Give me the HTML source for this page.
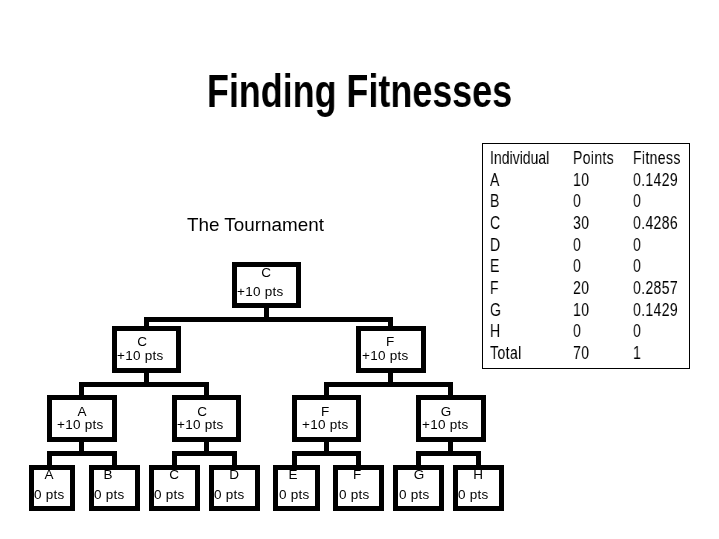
<!DOCTYPE html>
<html><head><meta charset="utf-8"><style>
html,body{margin:0;padding:0;background:#fff;}
body{width:719px;height:539px;position:relative;overflow:hidden;font-family:"Liberation Sans", sans-serif;color:#000;}
.r{position:absolute;background:#000;}
.b{position:absolute;border:5px solid #000;box-sizing:border-box;background:#fff;}
.t{position:absolute;white-space:nowrap;will-change:transform;}
</style></head><body>
<div class="t" style="left:206.5px;top:67.69px;font-size:46.2px;line-height:46.2px;transform:scaleX(0.777);transform-origin:0 0;font-weight:bold;">Finding Fitnesses</div>
<div class="t" style="left:187.0px;top:215.84px;font-size:18.85px;line-height:18.85px;">The Tournament</div>
<div class="r" style="left:482px;top:143px;width:208px;height:1px"></div>
<div class="r" style="left:482px;top:368px;width:208px;height:1px"></div>
<div class="r" style="left:482px;top:143px;width:1px;height:226px"></div>
<div class="r" style="left:689px;top:143px;width:1px;height:226px"></div>
<div class="t" style="left:490.3px;top:148.90px;font-size:18.9px;line-height:18.9px;transform:scaleX(0.744);transform-origin:0 0;">Individual</div>
<div class="t" style="left:573.3px;top:148.90px;font-size:18.9px;line-height:18.9px;transform:scaleX(0.744);transform-origin:0 0;letter-spacing:0.45px;">Points</div>
<div class="t" style="left:633.0px;top:148.90px;font-size:18.9px;line-height:18.9px;transform:scaleX(0.744);transform-origin:0 0;letter-spacing:0.45px;">Fitness</div>
<div class="t" style="left:490.3px;top:170.58px;font-size:18.9px;line-height:18.9px;transform:scaleX(0.744);transform-origin:0 0;letter-spacing:0.5px;">A</div>
<div class="t" style="left:573.3px;top:170.58px;font-size:18.9px;line-height:18.9px;transform:scaleX(0.744);transform-origin:0 0;letter-spacing:0.45px;">10</div>
<div class="t" style="left:633.0px;top:170.58px;font-size:18.9px;line-height:18.9px;transform:scaleX(0.744);transform-origin:0 0;letter-spacing:0.45px;">0.1429</div>
<div class="t" style="left:490.3px;top:192.26px;font-size:18.9px;line-height:18.9px;transform:scaleX(0.744);transform-origin:0 0;letter-spacing:0.5px;">B</div>
<div class="t" style="left:573.3px;top:192.26px;font-size:18.9px;line-height:18.9px;transform:scaleX(0.744);transform-origin:0 0;letter-spacing:0.45px;">0</div>
<div class="t" style="left:633.0px;top:192.26px;font-size:18.9px;line-height:18.9px;transform:scaleX(0.744);transform-origin:0 0;letter-spacing:0.45px;">0</div>
<div class="t" style="left:490.3px;top:213.94px;font-size:18.9px;line-height:18.9px;transform:scaleX(0.744);transform-origin:0 0;letter-spacing:0.5px;">C</div>
<div class="t" style="left:573.3px;top:213.94px;font-size:18.9px;line-height:18.9px;transform:scaleX(0.744);transform-origin:0 0;letter-spacing:0.45px;">30</div>
<div class="t" style="left:633.0px;top:213.94px;font-size:18.9px;line-height:18.9px;transform:scaleX(0.744);transform-origin:0 0;letter-spacing:0.45px;">0.4286</div>
<div class="t" style="left:490.3px;top:235.62px;font-size:18.9px;line-height:18.9px;transform:scaleX(0.744);transform-origin:0 0;letter-spacing:0.5px;">D</div>
<div class="t" style="left:573.3px;top:235.62px;font-size:18.9px;line-height:18.9px;transform:scaleX(0.744);transform-origin:0 0;letter-spacing:0.45px;">0</div>
<div class="t" style="left:633.0px;top:235.62px;font-size:18.9px;line-height:18.9px;transform:scaleX(0.744);transform-origin:0 0;letter-spacing:0.45px;">0</div>
<div class="t" style="left:490.3px;top:257.30px;font-size:18.9px;line-height:18.9px;transform:scaleX(0.744);transform-origin:0 0;letter-spacing:0.5px;">E</div>
<div class="t" style="left:573.3px;top:257.30px;font-size:18.9px;line-height:18.9px;transform:scaleX(0.744);transform-origin:0 0;letter-spacing:0.45px;">0</div>
<div class="t" style="left:633.0px;top:257.30px;font-size:18.9px;line-height:18.9px;transform:scaleX(0.744);transform-origin:0 0;letter-spacing:0.45px;">0</div>
<div class="t" style="left:490.3px;top:278.98px;font-size:18.9px;line-height:18.9px;transform:scaleX(0.744);transform-origin:0 0;letter-spacing:0.5px;">F</div>
<div class="t" style="left:573.3px;top:278.98px;font-size:18.9px;line-height:18.9px;transform:scaleX(0.744);transform-origin:0 0;letter-spacing:0.45px;">20</div>
<div class="t" style="left:633.0px;top:278.98px;font-size:18.9px;line-height:18.9px;transform:scaleX(0.744);transform-origin:0 0;letter-spacing:0.45px;">0.2857</div>
<div class="t" style="left:490.3px;top:300.66px;font-size:18.9px;line-height:18.9px;transform:scaleX(0.744);transform-origin:0 0;letter-spacing:0.5px;">G</div>
<div class="t" style="left:573.3px;top:300.66px;font-size:18.9px;line-height:18.9px;transform:scaleX(0.744);transform-origin:0 0;letter-spacing:0.45px;">10</div>
<div class="t" style="left:633.0px;top:300.66px;font-size:18.9px;line-height:18.9px;transform:scaleX(0.744);transform-origin:0 0;letter-spacing:0.45px;">0.1429</div>
<div class="t" style="left:490.3px;top:322.34px;font-size:18.9px;line-height:18.9px;transform:scaleX(0.744);transform-origin:0 0;letter-spacing:0.5px;">H</div>
<div class="t" style="left:573.3px;top:322.34px;font-size:18.9px;line-height:18.9px;transform:scaleX(0.744);transform-origin:0 0;letter-spacing:0.45px;">0</div>
<div class="t" style="left:633.0px;top:322.34px;font-size:18.9px;line-height:18.9px;transform:scaleX(0.744);transform-origin:0 0;letter-spacing:0.45px;">0</div>
<div class="t" style="left:490.3px;top:344.02px;font-size:18.9px;line-height:18.9px;transform:scaleX(0.744);transform-origin:0 0;letter-spacing:0.5px;">Total</div>
<div class="t" style="left:573.3px;top:344.02px;font-size:18.9px;line-height:18.9px;transform:scaleX(0.744);transform-origin:0 0;letter-spacing:0.45px;">70</div>
<div class="t" style="left:633.0px;top:344.02px;font-size:18.9px;line-height:18.9px;transform:scaleX(0.744);transform-origin:0 0;letter-spacing:0.45px;">1</div>
<div class="b" style="left:232px;top:262px;width:69px;height:46px;border-width:5px"></div>
<div class="t" style="left:216.0px;width:100px;text-align:center;top:265.97px;font-size:13.5px;line-height:13.5px;">C</div>
<div class="t" style="left:236.9px;top:284.77px;font-size:13.5px;line-height:13.5px;letter-spacing:0.25px;">+10 pts</div>
<div class="b" style="left:112px;top:326px;width:69px;height:47px;border-width:5px"></div>
<div class="t" style="left:92.1px;width:100px;text-align:center;top:334.97px;font-size:13.5px;line-height:13.5px;">C</div>
<div class="t" style="left:116.9px;top:348.77px;font-size:13.5px;line-height:13.5px;letter-spacing:0.25px;">+10 pts</div>
<div class="b" style="left:356px;top:326px;width:70px;height:47px;border-width:5px"></div>
<div class="t" style="left:339.8px;width:100px;text-align:center;top:334.97px;font-size:13.5px;line-height:13.5px;">F</div>
<div class="t" style="left:361.9px;top:348.77px;font-size:13.5px;line-height:13.5px;letter-spacing:0.25px;">+10 pts</div>
<div class="b" style="left:47px;top:395px;width:70px;height:47px;border-width:5px"></div>
<div class="t" style="left:31.5px;width:100px;text-align:center;top:404.57px;font-size:13.5px;line-height:13.5px;">A</div>
<div class="t" style="left:56.9px;top:417.77px;font-size:13.5px;line-height:13.5px;letter-spacing:0.25px;">+10 pts</div>
<div class="b" style="left:172px;top:395px;width:69px;height:47px;border-width:5px"></div>
<div class="t" style="left:152.0px;width:100px;text-align:center;top:404.57px;font-size:13.5px;line-height:13.5px;">C</div>
<div class="t" style="left:176.9px;top:417.77px;font-size:13.5px;line-height:13.5px;letter-spacing:0.25px;">+10 pts</div>
<div class="b" style="left:292px;top:395px;width:69px;height:47px;border-width:5px"></div>
<div class="t" style="left:274.8px;width:100px;text-align:center;top:404.57px;font-size:13.5px;line-height:13.5px;">F</div>
<div class="t" style="left:301.9px;top:417.77px;font-size:13.5px;line-height:13.5px;letter-spacing:0.25px;">+10 pts</div>
<div class="b" style="left:416px;top:395px;width:70px;height:47px;border-width:5px"></div>
<div class="t" style="left:396.1px;width:100px;text-align:center;top:404.57px;font-size:13.5px;line-height:13.5px;">G</div>
<div class="t" style="left:421.9px;top:417.77px;font-size:13.5px;line-height:13.5px;letter-spacing:0.25px;">+10 pts</div>
<div class="b" style="left:29px;top:465px;width:46px;height:46px;border-width:5px"></div>
<div class="t" style="left:-0.9000000000000057px;width:100px;text-align:center;top:468.47px;font-size:13.5px;line-height:13.5px;">A</div>
<div class="t" style="left:34.3px;top:488.07px;font-size:13.5px;line-height:13.5px;letter-spacing:0.25px;">0 pts</div>
<div class="b" style="left:89px;top:465px;width:51px;height:46px;border-width:5px"></div>
<div class="t" style="left:58.0px;width:100px;text-align:center;top:468.47px;font-size:13.5px;line-height:13.5px;">B</div>
<div class="t" style="left:94.3px;top:488.07px;font-size:13.5px;line-height:13.5px;letter-spacing:0.25px;">0 pts</div>
<div class="b" style="left:149px;top:465px;width:51px;height:46px;border-width:5px"></div>
<div class="t" style="left:124.10000000000002px;width:100px;text-align:center;top:468.47px;font-size:13.5px;line-height:13.5px;">C</div>
<div class="t" style="left:154.3px;top:488.07px;font-size:13.5px;line-height:13.5px;letter-spacing:0.25px;">0 pts</div>
<div class="b" style="left:209px;top:465px;width:51px;height:46px;border-width:5px"></div>
<div class="t" style="left:184.10000000000002px;width:100px;text-align:center;top:468.47px;font-size:13.5px;line-height:13.5px;">D</div>
<div class="t" style="left:214.3px;top:488.07px;font-size:13.5px;line-height:13.5px;letter-spacing:0.25px;">0 pts</div>
<div class="b" style="left:273px;top:465px;width:47px;height:46px;border-width:5px"></div>
<div class="t" style="left:243.0px;width:100px;text-align:center;top:468.47px;font-size:13.5px;line-height:13.5px;">E</div>
<div class="t" style="left:279.4px;top:488.07px;font-size:13.5px;line-height:13.5px;letter-spacing:0.25px;">0 pts</div>
<div class="b" style="left:333px;top:465px;width:51px;height:46px;border-width:5px"></div>
<div class="t" style="left:307.0px;width:100px;text-align:center;top:468.47px;font-size:13.5px;line-height:13.5px;">F</div>
<div class="t" style="left:339.4px;top:488.07px;font-size:13.5px;line-height:13.5px;letter-spacing:0.25px;">0 pts</div>
<div class="b" style="left:393px;top:465px;width:51px;height:46px;border-width:5px"></div>
<div class="t" style="left:369.0px;width:100px;text-align:center;top:468.47px;font-size:13.5px;line-height:13.5px;">G</div>
<div class="t" style="left:399.4px;top:488.07px;font-size:13.5px;line-height:13.5px;letter-spacing:0.25px;">0 pts</div>
<div class="b" style="left:453px;top:465px;width:51px;height:46px;border-width:5px"></div>
<div class="t" style="left:428.0px;width:100px;text-align:center;top:468.47px;font-size:13.5px;line-height:13.5px;">H</div>
<div class="t" style="left:458.3px;top:488.07px;font-size:13.5px;line-height:13.5px;letter-spacing:0.25px;">0 pts</div>
<div class="r" style="left:264px;top:308px;width:5px;height:14px"></div>
<div class="r" style="left:144px;top:317px;width:249px;height:5px"></div>
<div class="r" style="left:144px;top:317px;width:5px;height:9px"></div>
<div class="r" style="left:388px;top:317px;width:5px;height:9px"></div>
<div class="r" style="left:144px;top:373px;width:5px;height:14px"></div>
<div class="r" style="left:388px;top:373px;width:5px;height:14px"></div>
<div class="r" style="left:79px;top:382px;width:130px;height:5px"></div>
<div class="r" style="left:324px;top:382px;width:129px;height:5px"></div>
<div class="r" style="left:79px;top:382px;width:5px;height:13px"></div>
<div class="r" style="left:204px;top:382px;width:5px;height:13px"></div>
<div class="r" style="left:324px;top:382px;width:5px;height:13px"></div>
<div class="r" style="left:448px;top:382px;width:5px;height:13px"></div>
<div class="r" style="left:79px;top:442px;width:5px;height:14px"></div>
<div class="r" style="left:204px;top:442px;width:5px;height:14px"></div>
<div class="r" style="left:324px;top:442px;width:5px;height:14px"></div>
<div class="r" style="left:448px;top:442px;width:5px;height:14px"></div>
<div class="r" style="left:47px;top:451px;width:70px;height:5px"></div>
<div class="r" style="left:172px;top:451px;width:65px;height:5px"></div>
<div class="r" style="left:292px;top:451px;width:69px;height:5px"></div>
<div class="r" style="left:416px;top:451px;width:65px;height:5px"></div>
<div class="r" style="left:47px;top:451px;width:5px;height:14px"></div>
<div class="r" style="left:112px;top:451px;width:5px;height:14px"></div>
<div class="r" style="left:172px;top:451px;width:5px;height:14px"></div>
<div class="r" style="left:232px;top:451px;width:5px;height:14px"></div>
<div class="r" style="left:292px;top:451px;width:5px;height:14px"></div>
<div class="r" style="left:356px;top:451px;width:5px;height:14px"></div>
<div class="r" style="left:416px;top:451px;width:5px;height:14px"></div>
<div class="r" style="left:476px;top:451px;width:5px;height:14px"></div>
</body></html>
